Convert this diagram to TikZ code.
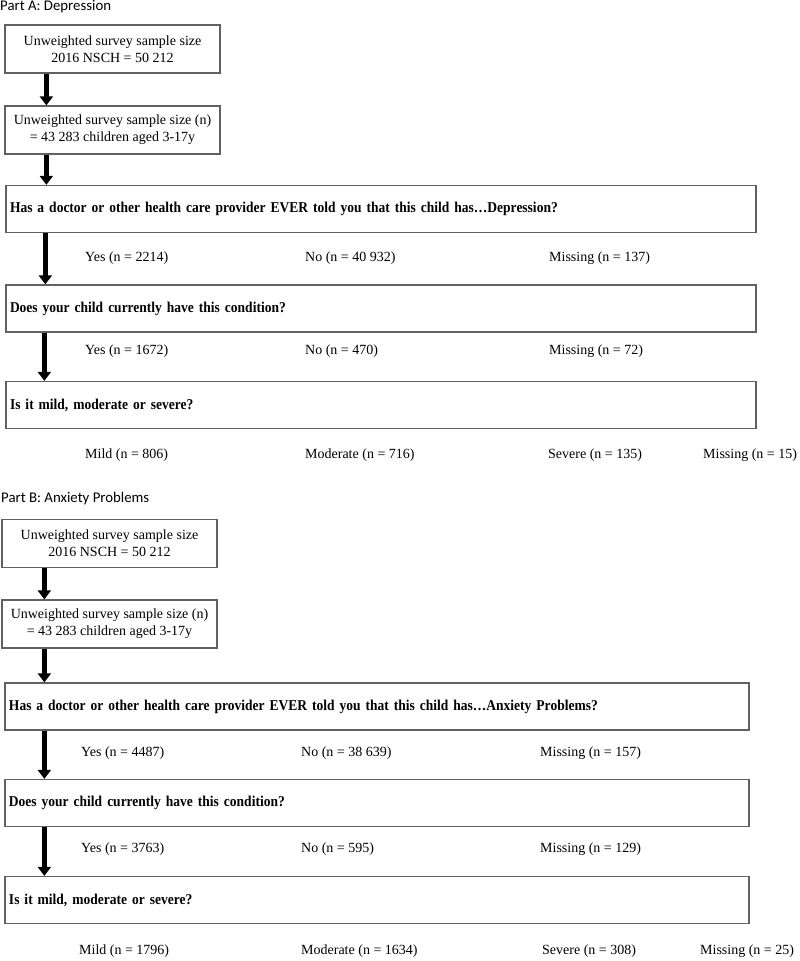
\documentclass[tikz,border=0pt]{standalone}
\usepackage{fontspec}
\setmainfont{Liberation Serif}
\newfontfamily\partfont{Carlito}
\newfontfamily\askfont[FakeStretch=0.9]{Liberation Serif}
\usetikzlibrary{positioning,arrows.meta}
\tikzset{
  sizebox/.style={draw=black!62, line width=1.3pt, minimum width=215pt, minimum height=48pt, inner sep=2pt, align=center, font=\fontsize{14}{17}\selectfont},
  askbox/.style={draw=black!62, line width=1.3pt, minimum height=47pt, text width=#1, inner xsep=4pt, align=left, font=\askfont\bfseries\fontsize{15}{17}\selectfont},
  askbox/.default=742pt,
  count/.style={anchor=west, inner sep=0pt, font=\fontsize{14}{16}\selectfont},
  parttitle/.style={anchor=west, inner sep=0pt, font=\partfont\fontsize{14.8}{17}\selectfont},
  flow/.style={line width=5pt, -{Triangle[width=13pt,length=9pt]}}
}
\begin{document}
\begin{tikzpicture}[x=1pt, y=-1pt]
  \useasboundingbox (0,0) rectangle (800,961);

  % Part A
  \node[parttitle] (titleA) at (0,7) {Part A: Depression};
  \node[sizebox] (sampleA) at (112.5,49) {Unweighted survey sample size\\2016 NSCH = 50 212};
  \node[sizebox] (ageA) at (112.5,130) {Unweighted survey sample size (n)\\= 43 283 children aged 3-17y};
  \node[askbox] (everA) at (381,209) {Has a doctor or other health care provider EVER told you that this child has…Depression?};
  \node[count] (everAyes) at (85,258) {Yes (n = 2214)};
  \node[count] (everAno) at (305,258) {No (n = 40 932)};
  \node[count] (everAmiss) at (549,258) {Missing (n = 137)};
  \node[askbox] (nowA) at (381,308.5) {Does your child currently have this condition?};
  \node[count] (nowAyes) at (85,351) {Yes (n = 1672)};
  \node[count] (nowAno) at (305,351) {No (n = 470)};
  \node[count] (nowAmiss) at (549,351) {Missing (n = 72)};
  \node[askbox] (levelA) at (381,405) {Is it mild, moderate or severe?};
  \node[count] (levelAmild) at (85,455) {Mild (n = 806)};
  \node[count] (levelAmod) at (305,455) {Moderate (n = 716)};
  \node[count] (levelAsev) at (548,455) {Severe (n = 135)};
  \node[count] (levelAmiss) at (703,455) {Missing (n = 15)};

  \draw[flow] ([xshift=42pt]sampleA.south west) -- ([xshift=42pt]ageA.north west);
  \draw[flow] ([xshift=42pt]ageA.south west) -- ([xshift=41pt]everA.north west);
  \draw[flow] ([xshift=40pt]everA.south west) -- ([xshift=40pt]nowA.north west);
  \draw[flow] ([xshift=39pt]nowA.south west) -- ([xshift=39pt]levelA.north west);

  % Part B
  \node[parttitle] (titleB) at (1,499) {Part B: Anxiety Problems};
  \node[sizebox] (sampleB) at (109.5,543.5) {Unweighted survey sample size\\2016 NSCH = 50 212};
  \node[sizebox] (ageB) at (109.5,624) {Unweighted survey sample size (n)\\= 43 283 children aged 3-17y};
  \node[askbox=736pt] (everB) at (377,706.5) {Has a doctor or other health care provider EVER told you that this child has…Anxiety Problems?};
  \node[count] (everByes) at (81,753) {Yes (n = 4487)};
  \node[count] (everBno) at (301,753) {No (n = 38 639)};
  \node[count] (everBmiss) at (540,753) {Missing (n = 157)};
  \node[askbox=736pt] (nowB) at (377,803) {Does your child currently have this condition?};
  \node[count] (nowByes) at (81,849) {Yes (n = 3763)};
  \node[count] (nowBno) at (301,849) {No (n = 595)};
  \node[count] (nowBmiss) at (540,849) {Missing (n = 129)};
  \node[askbox=736pt] (levelB) at (377,900) {Is it mild, moderate or severe?};
  \node[count] (levelBmild) at (79,951) {Mild (n = 1796)};
  \node[count] (levelBmod) at (301,951) {Moderate (n = 1634)};
  \node[count] (levelBsev) at (542,951) {Severe (n = 308)};
  \node[count] (levelBmiss) at (700,951) {Missing (n = 25)};

  \draw[flow] ([xshift=43pt]sampleB.south west) -- ([xshift=43pt]ageB.north west);
  \draw[flow] ([xshift=43pt]ageB.south west) -- ([xshift=40pt]everB.north west);
  \draw[flow] ([xshift=40pt]everB.south west) -- ([xshift=40pt]nowB.north west);
  \draw[flow] ([xshift=40pt]nowB.south west) -- ([xshift=40pt]levelB.north west);
\end{tikzpicture}
\end{document}
